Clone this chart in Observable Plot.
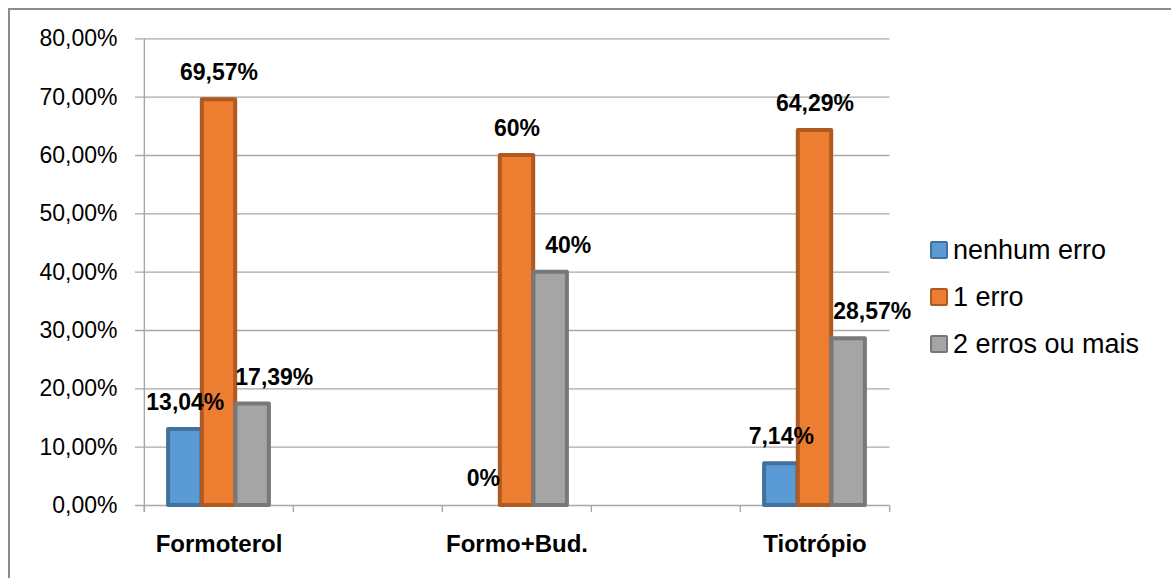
<!DOCTYPE html>
<html>
<head>
<meta charset="utf-8">
<script src="https://cdn.jsdelivr.net/npm/d3@7"></script>
<script src="https://cdn.jsdelivr.net/npm/@observablehq/plot@0.6"></script>
<style>
  html, body { margin: 0; padding: 0; background: #fff; }
  #wrap { position: relative; width: 1171px; height: 578px; overflow: hidden; font-family: "Liberation Sans", Arial, sans-serif; }
  #border { position: absolute; left: 8px; top: 8px; width: 1165px; height: 580px; box-sizing: border-box; border: 2px solid #8c8c8c; pointer-events: none; }
  #chart { position: absolute; left: 0; top: 0; }
  #chart svg g[aria-label^="x-axis"] text { font-weight: bold; font-size: 24px; }
  .legend-row { position: absolute; left: 930px; height: 30px; }
  .legend-row .sw { position: absolute; left: 0; top: 4px; width: 18px; height: 18px; box-sizing: border-box; border: 2.5px solid; border-radius: 2px; }
  .legend-row .lb { position: absolute; left: 23px; top: 0; font-size: 27px; line-height: 27px; white-space: nowrap; color: #000; }
</style>
</head>
<body>
<div id="wrap">
  <div id="chart"></div>
  <div id="legend"></div>
  <div id="border"></div>
</div>
<script>
// ---- data ----
const categories = ["Formoterol", "Formo+Bud.", "Tiotrópio"];
// the original category axis has two empty slots between the named groups
const axisSlots = ["Formoterol", "vazio1", "Formo+Bud.", "vazio2", "Tiotrópio"];
const seriesNames = ["nenhum erro", "1 erro", "2 erros ou mais"];
const nenhumErro = [13.04, 0, 7.14];
const umErro = [69.57, 60, 64.29];
const doisOuMais = [17.39, 40, 28.57];
const yTicks = [0, 10, 20, 30, 40, 50, 60, 70, 80];

// ---- styles ----
const fills = ["#5B9BD5", "#ED7D31", "#A5A5A5"];
const strokes = ["#41719C", "#AE5A21", "#787878"];

// ---- layout ----
const W = 1171, H = 578;
const mLeft = 143, mRight = W - 889.5, mTop = 38.33, mBottom = H - 505;
const innerH = H - mTop - mBottom;
const step = (W - mLeft - mRight) / axisSlots.length;
const barW = 33.7;
const side = (step - 3 * barW) / 2;
const insets = [
  [side, step - side - barW],
  [side + barW, side + barW],
  [step - side - barW, side]
];
const seriesShift = [-barW, 0, barW];
// manual label nudges (as placed in the original)
const labelNudge = {"Formoterol|2": 21.6, "Formo+Bud.|2": 17.6, "Tiotrópio|2": 23.5};

const seriesValues = [nenhumErro, umErro, doisOuMais];
const rows = [];
seriesValues.forEach((vals, s) => {
  vals.forEach((v, c) => rows.push({cat: categories[c], s, series: seriesNames[s], value: v}));
});

const pct = v => (Number.isInteger(v) ? String(v) : v.toFixed(2).replace(".", ",")) + "%";
const tickPct = v => v.toFixed(2).replace(".", ",") + "%";

const marks = [
  // gridlines (with tick extension to the left)
  Plot.ruleY(yTicks, {y: d => d, stroke: "#a8a8a8", strokeWidth: 1.4, insetLeft: -8}),
  // vertical axis line
  Plot.ruleX([axisSlots[0]], {x: d => d, dx: -step / 2, stroke: "#a8a8a8", strokeWidth: 1.4, insetBottom: -7}),
  // category tick marks on the slot boundaries
  Plot.ruleX(axisSlots, {x: d => d, dx: -step / 2, stroke: "#a8a8a8", strokeWidth: 1.4, insetTop: innerH, insetBottom: -7}),
  Plot.ruleX([axisSlots[axisSlots.length - 1]], {x: d => d, dx: step / 2, stroke: "#a8a8a8", strokeWidth: 1.4, insetTop: innerH, insetBottom: -7})
];

seriesNames.forEach((name, s) => {
  marks.push(Plot.barY(rows.filter(r => r.s === s && r.value > 0), {
    x: "cat", y: "value",
    fill: fills[s], stroke: strokes[s], strokeWidth: 4, strokeLinejoin: "round",
    insetLeft: insets[s][0], insetRight: insets[s][1]
  }));
});

rows.forEach(r => {
  marks.push(Plot.text([r], {
    x: "cat", y: "value", text: d => pct(d.value),
    dx: seriesShift[r.s] + (labelNudge[r.cat + "|" + r.s] || 0),
    dy: -19.5, lineAnchor: "bottom",
    fontWeight: "bold", fontSize: 23, fill: "#000"
  }));
});

const chart = Plot.plot({
  width: W, height: H,
  marginLeft: mLeft, marginRight: mRight, marginTop: mTop, marginBottom: mBottom,
  style: {fontFamily: "'Liberation Sans', Arial, sans-serif", fontSize: "23px", color: "#000", background: "transparent", overflow: "visible"},
  x: {type: "band", domain: axisSlots, padding: 0, tickSize: 0, tickPadding: 29.7,
      tickFormat: d => categories.includes(d) ? d : "", label: null},
  y: {domain: [0, 80], ticks: yTicks, tickFormat: tickPct, tickSize: 0, tickPadding: 26, label: null},
  marks
});
document.getElementById("chart").appendChild(chart);

// legend
const legend = document.getElementById("legend");
const legendTop = 236.5, legendStep = 47.2;
seriesNames.forEach((name, s) => {
  const row = document.createElement("div");
  row.className = "legend-row";
  row.style.top = (legendTop + s * legendStep) + "px";
  const sw = document.createElement("div");
  sw.className = "sw";
  sw.style.background = fills[s];
  sw.style.borderColor = strokes[s];
  const lb = document.createElement("div");
  lb.className = "lb";
  lb.textContent = name;
  row.appendChild(sw);
  row.appendChild(lb);
  legend.appendChild(row);
});
</script>
</body>
</html>
